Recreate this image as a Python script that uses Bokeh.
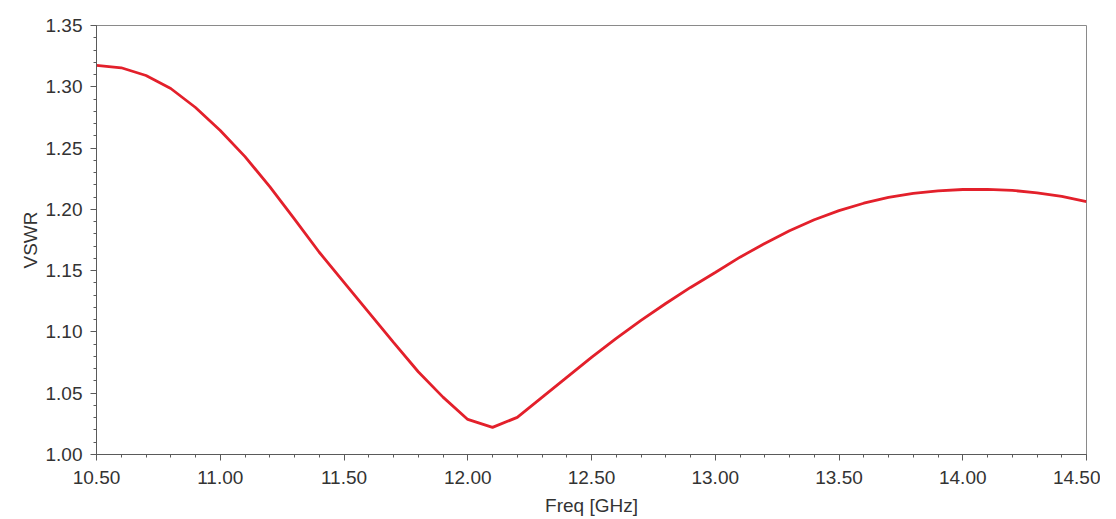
from bokeh.plotting import figure
from bokeh.models import Range1d, SingleIntervalTicker, NumeralTickFormatter
from bokeh.embed import file_html
from bokeh.resources import INLINE

# Data
freq_ghz = [10.5, 10.6, 10.7, 10.8, 10.9, 11.0, 11.1, 11.2, 11.3, 11.4,
            11.5, 11.6, 11.7, 11.8, 11.9, 12.0, 12.1, 12.2, 12.3, 12.4,
            12.5, 12.6, 12.7, 12.8, 12.9, 13.0, 13.1, 13.2, 13.3, 13.4,
            13.5, 13.6, 13.7, 13.8, 13.9, 14.0, 14.1, 14.2, 14.3, 14.4, 14.5]
vswr = [1.3174, 1.3155, 1.3092, 1.2986, 1.2831, 1.2644, 1.2430, 1.2185, 1.1920, 1.1650,
        1.1405, 1.1160, 1.0915, 1.0675, 1.0468, 1.0286, 1.0221, 1.0303, 1.0466, 1.0629,
        1.0792, 1.0947, 1.1094, 1.1232, 1.1363, 1.1485, 1.1610, 1.1722, 1.1825, 1.1915,
        1.1990, 1.2050, 1.2097, 1.2130, 1.2150, 1.2162, 1.2163, 1.2155, 1.2135, 1.2105, 1.2064]

x_label = "Freq [GHz]"
y_label = "VSWR"

FONT = "Liberation Sans"
AXIS_COLOR = "#5a5a5a"

p = figure(width=1100, height=518, output_backend="svg", toolbar_location=None,
           x_range=Range1d(10.5, 14.5), y_range=Range1d(1.0, 1.35),
           min_border_left=96, min_border_top=25, min_border_right=14, min_border_bottom=56)
p.background_fill_color = "white"
p.border_fill_color = "white"
p.outline_line_color = "#8a8a8a"
p.outline_line_width = 1
p.xgrid.visible = False
p.ygrid.visible = False

p.line(freq_ghz, vswr, line_color="#e3202b", line_width=2.8)

p.xaxis.ticker = SingleIntervalTicker(interval=0.5, num_minor_ticks=5)
p.yaxis.ticker = SingleIntervalTicker(interval=0.05, num_minor_ticks=5)
for ax in (p.xaxis, p.yaxis):
    ax.formatter = NumeralTickFormatter(format="0.00")
    ax.axis_line_color = AXIS_COLOR
    ax.major_tick_line_color = AXIS_COLOR
    ax.minor_tick_line_color = AXIS_COLOR
    ax.major_tick_out = 6
    ax.major_tick_in = 0
    ax.minor_tick_out = 3
    ax.minor_tick_in = 0
    ax.major_label_text_font = FONT
    ax.major_label_text_font_size = "19px"
    ax.major_label_text_color = "#333333"
    ax.axis_label_text_font = FONT
    ax.axis_label_text_font_size = "19px"
    ax.axis_label_text_font_style = "normal"
    ax.axis_label_text_color = "#333333"

p.xaxis.axis_label = x_label
p.yaxis.axis_label = y_label
p.xaxis.major_label_standoff = 10
p.yaxis.major_label_standoff = 8
p.xaxis.axis_label_standoff = 8
p.yaxis.axis_label_standoff = 2

open("out.html", "w").write(file_html(p, INLINE))
